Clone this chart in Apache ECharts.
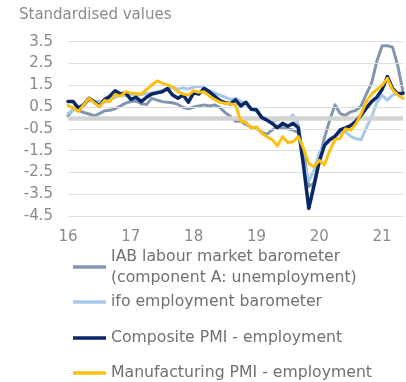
<!DOCTYPE html>
<html>
<head>
<meta charset="utf-8">
<script src="https://cdn.jsdelivr.net/npm/echarts@6/dist/echarts.min.js"></script>
<style>
  html, body { margin: 0; padding: 0; background: #fff; }
  #chart { width: 406px; height: 382px; }
</style>
</head>
<body>
<div id="chart"></div>
<script>
// Monthly observations, Jan 2016 to May 2021
const months = [];
for (let y = 2016; y <= 2021; y++) {
  for (let m = 1; m <= 12; m++) {
    if (y === 2021 && m > 5) break;
    months.push(y + '-' + String(m).padStart(2, '0'));
  }
}

const yearLabels = ['16', '17', '18', '19', '20', '21'];
const gridValues = [3.5, 2.5, 1.5, 0.5, -0.5, -1.5, -2.5, -3.5, -4.5];

const iabBarometer = [
  0.1, 0.4, 0.35, 0.25, 0.18, 0.1, 0.2, 0.33, 0.35, 0.42, 0.55, 0.68,
  0.75, 0.78, 0.65, 0.62, 0.9, 0.82, 0.75, 0.72, 0.7, 0.62, 0.48, 0.42,
  0.5, 0.55, 0.6, 0.55, 0.6, 0.48, 0.25, 0.08, -0.15, -0.15, -0.3, -0.42,
  -0.47, -0.65, -0.75, -0.55, -0.4, -0.45, -0.5, -0.55, -0.68, -1.6, -3.15, -3.0,
  -1.85, -0.9, -0.1, 0.6, 0.2, 0.12, 0.28, 0.35, 0.55, 1.1, 1.6, 2.6,
  3.3, 3.32, 3.25, 2.4, 1.2
];

const ifoBarometer = [
  0.2, 0.35, 0.5, 0.65, 0.8, 0.75, 0.78, 0.72, 0.85, 0.95, 1.05, 1.02,
  1.1, 1.05, 1.08, 1.12, 1.15, 1.2, 1.25, 1.3, 1.4, 1.32, 1.38, 1.33,
  1.42, 1.45, 1.4, 1.25, 1.15, 1.05, 0.95, 0.85, 0.9, 0.75, 0.67, 0.44,
  0.3, 0.06, 0.0, -0.17, -0.1, 0.03, -0.08, 0.14, -0.3, -2.0, -2.9, -2.4,
  -1.6, -1.2, -1.0, -0.8, -0.7, -0.63, -0.85, -0.95, -1.0, -0.45, 0.05, 0.7,
  1.05, 0.82, 1.05, 1.15, 1.1
];

const compositePmi = [
  0.75, 0.75, 0.45, 0.6, 0.9, 0.75, 0.55, 0.85, 1.0, 1.25, 1.1, 1.15,
  0.85, 0.95, 0.75, 0.95, 1.1, 1.15, 1.2, 1.35, 1.05, 0.9, 1.05, 0.72,
  1.15, 1.1, 1.35, 1.2, 1.0, 0.8, 0.7, 0.65, 0.83, 0.55, 0.72, 0.4,
  0.38, 0.02, -0.1, -0.25, -0.45, -0.25, -0.38, -0.25, -0.45, -2.2, -4.15, -3.1,
  -2.0, -1.25, -1.0, -0.85, -0.55, -0.45, -0.35, -0.15, 0.12, 0.45, 0.75, 0.95,
  1.3, 1.9, 1.35, 1.1, 1.13
];

const manufacturingPmi = [
  0.57, 0.47, 0.3, 0.6, 0.9, 0.7, 0.52, 0.8, 0.75, 1.08, 1.0, 1.2,
  1.15, 1.12, 1.09, 1.3, 1.5, 1.7, 1.6, 1.52, 1.42, 1.2, 1.1, 1.05,
  1.25, 1.18, 1.2, 1.0, 0.85, 0.72, 0.67, 0.65, 0.6, -0.15, -0.2, -0.47,
  -0.4, -0.7, -0.86, -1.0, -1.28, -0.86, -1.13, -1.09, -0.85, -1.4, -2.1, -2.24,
  -1.95, -2.15, -1.5, -1.0, -0.93, -0.5, -0.55, -0.28, 0.2, 0.75, 1.1, 1.3,
  1.5, 1.82, 1.3, 1.05, 0.9
];

const names = [
  'IAB labour market barometer\n(component A: unemployment)',
  'ifo employment barometer',
  'Composite PMI - employment',
  'Manufacturing PMI - employment'
];
const colors = ['#8296b0', '#a6c8ea', '#0a2865', '#fdc010'];
const values = [iabBarometer, ifoBarometer, compositePmi, manufacturingPmi];

const FONT = 'DejaVu Sans';
const chart = echarts.init(document.getElementById('chart'), null, { renderer: 'canvas' });

const lineSeries = values.map((d, k) => ({
  name: names[k],
  type: 'line',
  data: d,
  showSymbol: false,
  symbol: 'none',
  smooth: false,
  z: 3 + k,
  lineStyle: { color: colors[k], width: k === 2 ? 3.5 : 3, join: 'round', cap: 'round' },
  itemStyle: { color: colors[k] }
}));

// Horizontal reference lines: light grid plus a heavy zero line
const guideSeries = {
  name: 'guides',
  type: 'line',
  data: [],
  silent: true,
  z: 1,
  markLine: {
    silent: true,
    symbol: 'none',
    label: { show: false },
    animation: false,
    data: gridValues.map(v => ({ yAxis: v, lineStyle: { color: '#dedede', width: 1.2, type: 'solid' } }))
      .concat([{ yAxis: 0, lineStyle: { color: '#d3d3d3', width: 4.5, type: 'solid' } }])
  }
};

const legendTops = [235.5, 291.5, 327.5, 362.5];
const legends = names.map((n, k) => ({
  data: [n],
  orient: 'vertical',
  left: 73,
  top: legendTops[k],
  padding: 0,
  icon: 'rect',
  itemWidth: 33,
  itemHeight: 3.5,
  selectedMode: false,
  textStyle: {
    fontFamily: FONT,
    fontSize: 15.7,
    color: '#707070',
    lineHeight: 21,
    padding: k === 0 ? [21, 0, 0, 0] : 0
  }
}));

chart.setOption({
  animation: false,
  backgroundColor: '#ffffff',
  title: {
    text: 'Standardised values',
    left: 19,
    top: 8,
    padding: 0,
    textStyle: { fontFamily: FONT, fontSize: 15, fontWeight: 'normal', color: '#8a8a8a' }
  },
  legend: legends,
  grid: { left: 68, right: 3, top: 41.7, bottom: 166, containLabel: false },
  xAxis: {
    type: 'category',
    data: months,
    boundaryGap: false,
    axisLine: { show: false },
    axisTick: { show: false },
    splitLine: { show: false },
    axisLabel: {
      interval: (idx) => idx % 12 === 0,
      formatter: (val, idx) => yearLabels[Math.floor(idx / 12)],
      margin: 14,
      fontFamily: FONT,
      fontSize: 15,
      color: '#8a8a8a'
    }
  },
  yAxis: {
    type: 'value',
    min: -4.5,
    max: 3.5,
    interval: 0.5,
    axisLine: { show: false },
    axisTick: { show: false },
    splitLine: { show: false },
    axisLabel: {
      margin: 15,
      fontFamily: FONT,
      fontSize: 15,
      color: '#8a8a8a',
      formatter: (v) => (gridValues.some(g => Math.abs(g - v) < 1e-9) ? v.toFixed(1) : '')
    }
  },
  series: [guideSeries].concat(lineSeries)
});
</script>
</body>
</html>
